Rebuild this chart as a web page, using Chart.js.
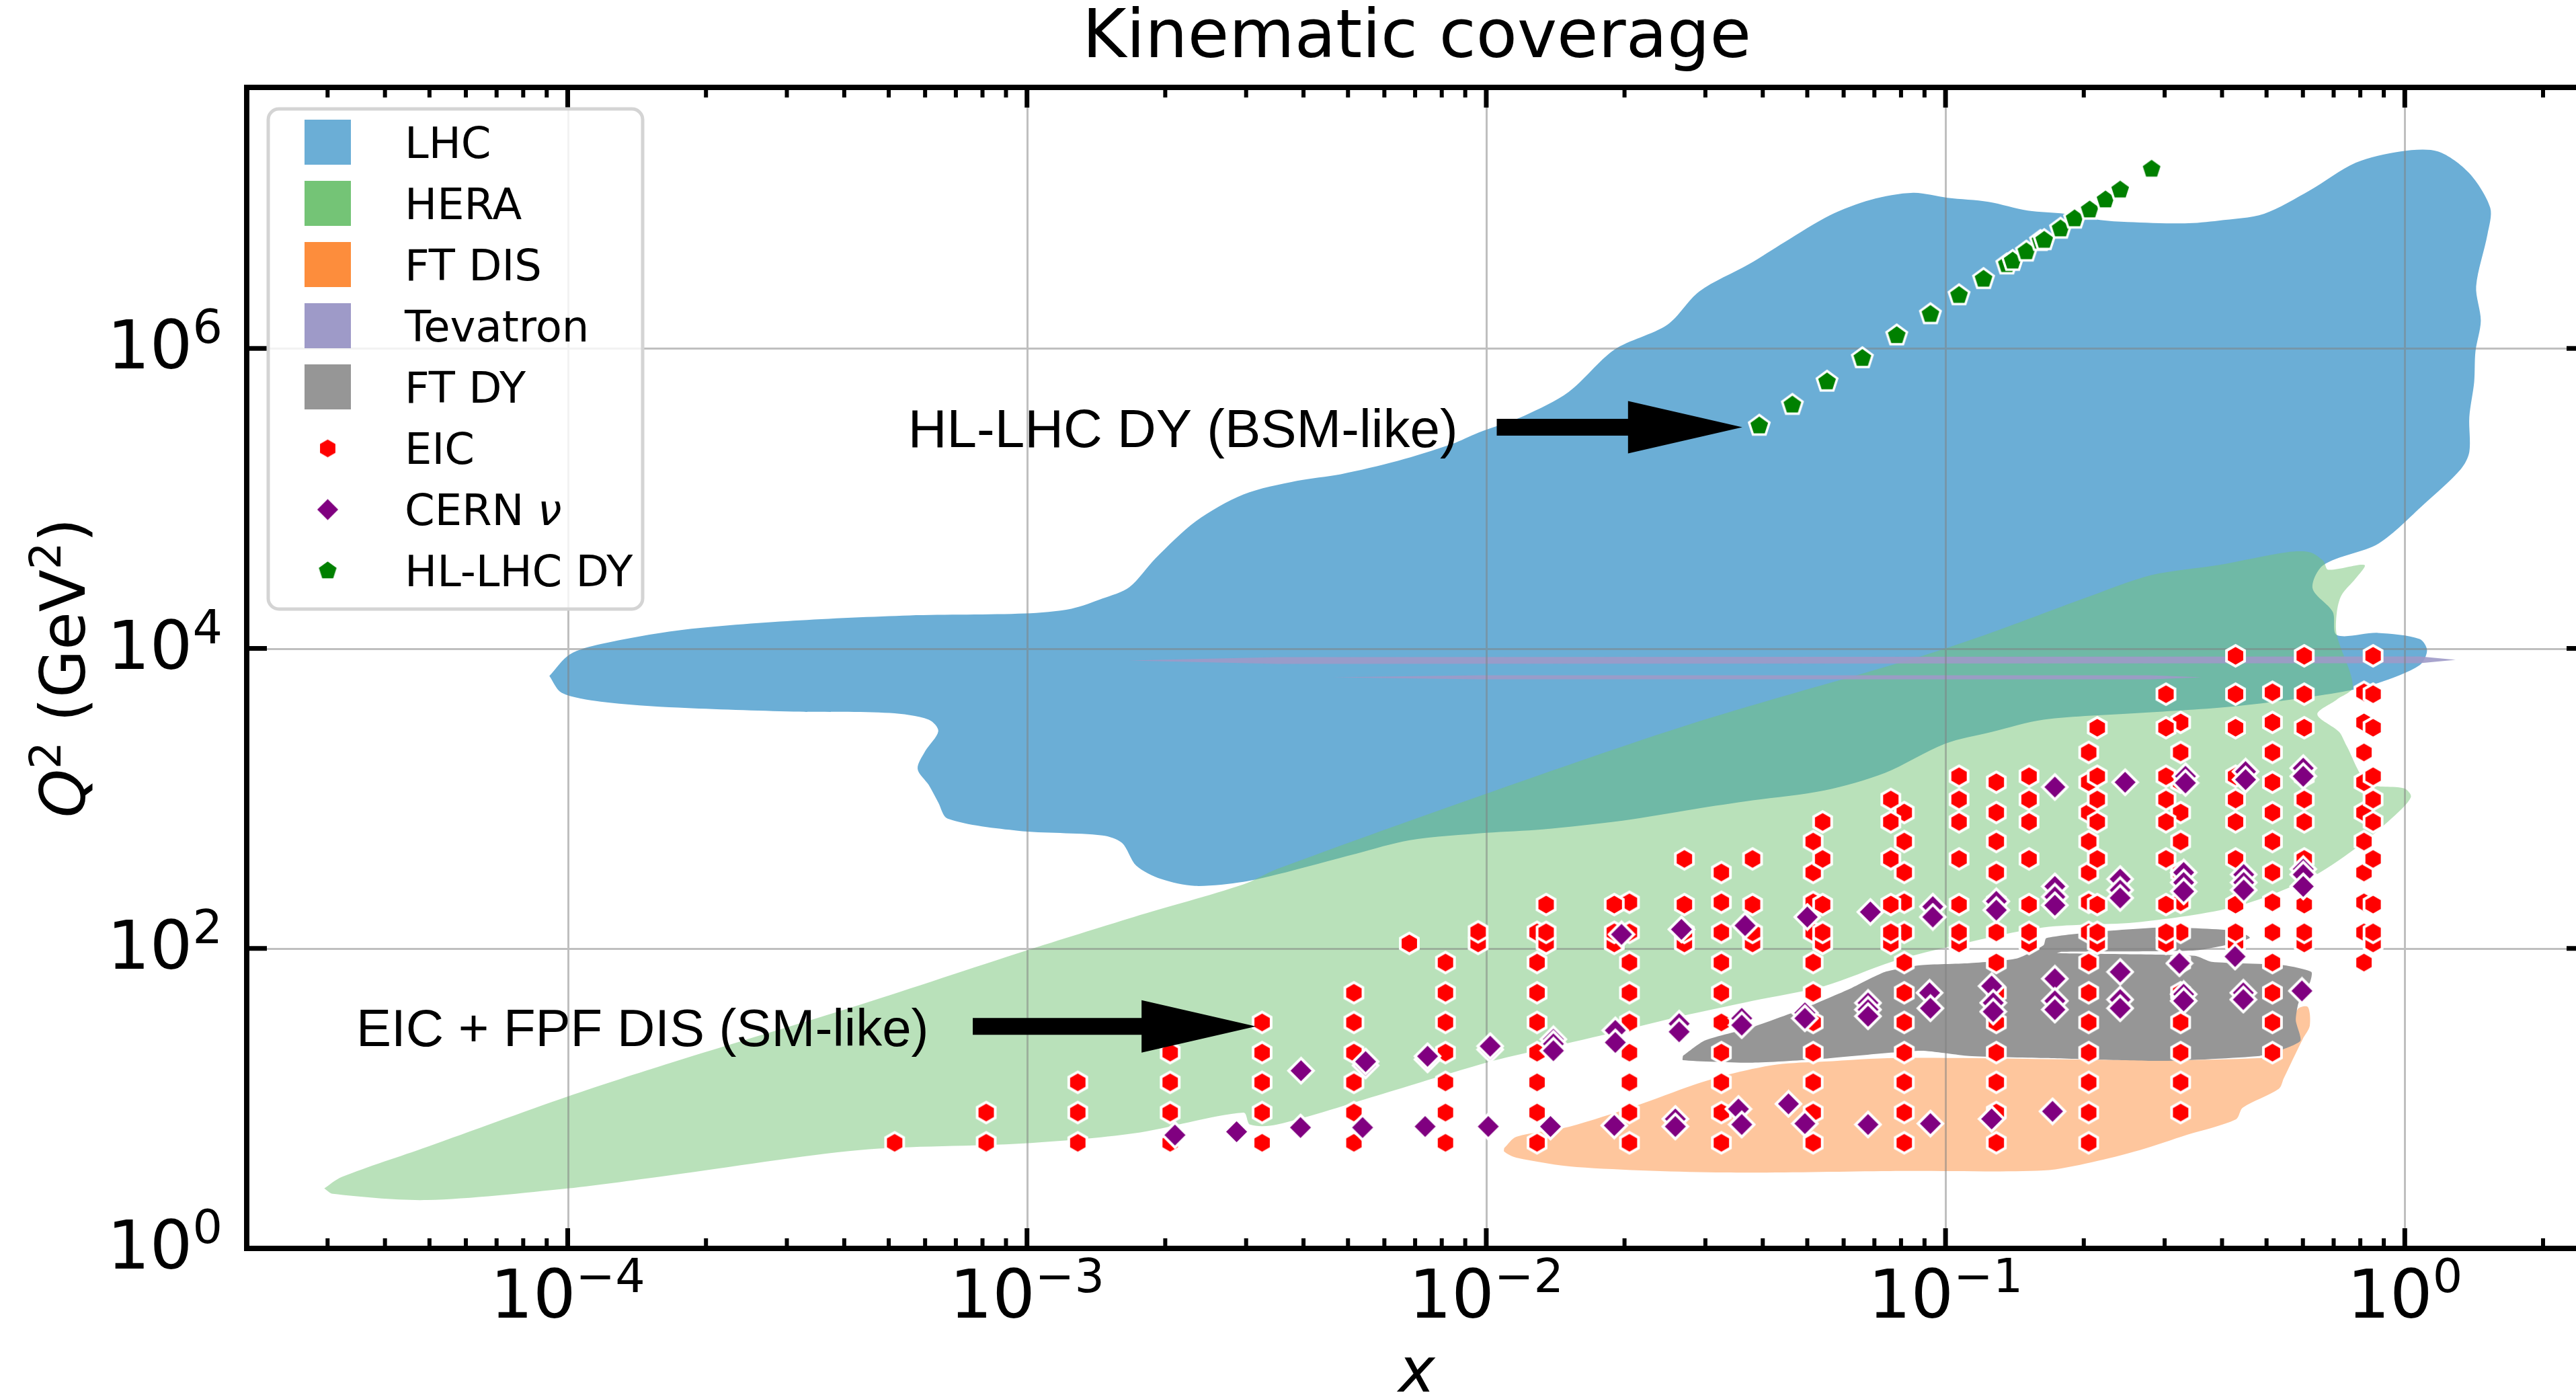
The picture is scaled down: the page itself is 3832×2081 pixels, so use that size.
<!DOCTYPE html>
<html lang="en">
<head>
<meta charset="UTF-8">
<title>Kinematic coverage</title>
<script src="https://cdn.jsdelivr.net/npm/chart.js@4.4.0/dist/chart.umd.min.js"></script>
<style>
  html, body { margin: 0; padding: 0; background: #ffffff; overflow: hidden; }
  #kin { position: absolute; left: 0; top: 0; }
</style>
</head>
<body>
<canvas id="kin" width="3900" height="2081"></canvas>
<script>
// ---- data (x, Q^2 in GeV^2) ----
const xMin = 2e-5, xMax = 2.49, yMin = 1, yMax = 5.5e7;
const xMajor = [1e-4, 1e-3, 1e-2, 1e-1, 1];
const xMajorSup = ['\u22124', '\u22123', '\u22122', '\u22121', '0'];
const yMajor = [1, 1e2, 1e4, 1e6];
const yMajorSup = ['0', '2', '4', '6'];

// EIC pseudo-data, column by column
const eicX = [5.15e-4, 8.15e-4, 1.29e-3, 2.05e-3, 3.25e-3, 5.15e-3, 8.15e-3, 0.0129, 0.0205,
              0.0325, 0.0515, 0.0813, 0.129, 0.205, 0.325, 0.515, 0.815];
const eicQ2 = [
  [5.06],
  [5.06, 8.05],
  [5.06, 8.05, 12.8],
  [5.06, 8.05, 12.8, 20.2],
  [5.06, 8.05, 12.8, 20.2, 32.1],
  [5.06, 8.05, 12.8, 20.2, 32.1, 50.6],
  [5.06, 8.05, 12.8, 20.2, 32.1, 50.6, 80.5],
  [5.06, 8.05, 12.8, 20.2, 32.1, 50.6, 80.5, 128],
  [5.06, 8.05, 12.8, 20.2, 32.1, 50.6, 80.5, 128, 203],
  [5.06, 8.05, 12.8, 20.2, 32.1, 50.6, 80.5, 128, 203, 321],
  [5.06, 8.05, 12.8, 20.2, 32.1, 50.6, 80.5, 128, 203, 321, 516],
  [5.06, 8.05, 12.8, 20.2, 32.1, 50.6, 80.5, 128, 203, 321, 516, 805],
  [5.06, 8.05, 12.8, 20.2, 32.1, 50.6, 80.5, 128, 203, 321, 516, 805, 1282],
  [5.06, 8.05, 12.8, 20.2, 32.1, 50.6, 80.5, 128, 203, 321, 516, 805, 1282, 2028],
  [8.05, 12.8, 20.2, 32.1, 50.6, 80.5, 128, 203, 321, 516, 805, 1282, 2028, 3213],
  [20.2, 32.1, 50.6, 80.5, 128, 203, 321, 516, 805, 1282, 2028, 3213, 5100],
  [80.5, 128, 203, 321, 516, 805, 1282, 2028, 3213, 5100]
];
const eicX2 = [0.0068, 0.0096, 0.0135, 0.019, 0.027, 0.038, 0.054, 0.076, 0.107, 0.152,
               0.214, 0.302, 0.428, 0.604, 0.853];
const eicQ2b = [
  [108],
  [108, 129],
  [108, 128, 196],
  [108, 128, 196],
  [108, 128, 196, 395],
  [108, 128, 196, 395],
  [108, 128, 196, 395, 697],
  [108, 128, 196, 395, 697, 984],
  [108, 128, 196, 395, 697, 984, 1406],
  [108, 128, 196, 395, 697, 984, 1406],
  [108, 128, 196, 395, 697, 984, 1406, 2960],
  [108, 128, 196, 395, 697, 984, 1406, 2960, 4955],
  [108, 128, 196, 395, 697, 984, 1406, 2960, 4955, 8930],
  [108, 128, 196, 395, 697, 984, 1406, 2960, 4955, 8930],
  [108, 128, 196, 395, 697, 984, 1406, 2960, 4955, 8930]
];

// CERN neutrino pseudo-data [x, Q2]
const cernPts = [
  [2.10e-3, 5.7], [2.86e-3, 6.0], [3.95e-3, 15.3], [3.94e-3, 6.4], [5.46e-3, 16.6], [5.46e-3, 17.6],
  [5.38e-3, 6.4], [7.45e-3, 18.2], [7.45e-3, 19.1], [7.36e-3, 6.5], [0.0102, 21.2], [0.0102, 22.3],
  [0.0101, 6.5], [0.0140, 24.8], [0.0140, 23.1], [0.0140, 20.8], [0.0138, 6.5], [0.0191, 28.4],
  [0.0191, 23.6], [0.0190, 6.6], [0.0197, 124], [0.0263, 31.5], [0.0263, 27.8], [0.0258, 7.3],
  [0.0258, 6.5], [0.0266, 134], [0.0366, 142], [0.0360, 34.2], [0.0360, 30.8], [0.0354, 8.5],
  [0.0360, 6.7], [0.0455, 9.2], [0.0500, 162], [0.0494, 37.2], [0.0494, 34.2], [0.0494, 6.8],
  [0.0686, 175], [0.0678, 43.3], [0.0678, 39.1], [0.0678, 35.3], [0.0678, 6.7], [0.0938, 190],
  [0.0938, 162], [0.0923, 50.6], [0.0927, 39.9], [0.0927, 6.8], [0.129, 206], [0.129, 180],
  [0.126, 56.1], [0.127, 43.4], [0.127, 37.9], [0.126, 7.3], [0.173, 1191], [0.173, 259],
  [0.173, 221], [0.173, 194], [0.173, 62.8], [0.173, 44.7], [0.173, 39.1], [0.171, 8.2],
  [0.246, 1282], [0.240, 290], [0.240, 245], [0.240, 217], [0.240, 69.7], [0.240, 45.6],
  [0.240, 39.9], [0.333, 1406], [0.333, 1268], [0.330, 321], [0.330, 275], [0.330, 240],
  [0.323, 79.6], [0.330, 49.5], [0.330, 44.7], [0.450, 1510], [0.450, 1335], [0.446, 311],
  [0.446, 275], [0.446, 245], [0.427, 88.3], [0.445, 50.6], [0.445, 45.6], [0.601, 1592],
  [0.601, 1406], [0.601, 338], [0.601, 311], [0.601, 259], [0.597, 52.1]
];

// HL-LHC Drell-Yan pseudo-data
const hlX = [0.0393, 0.0464, 0.0552, 0.0659, 0.0783, 0.0927, 0.107, 0.121, 0.136, 0.140,
             0.150, 0.161, 0.164, 0.178, 0.191, 0.206, 0.223, 0.240, 0.281];
const hlQ2 = [3.05e5, 4.2e5, 6.0e5, 8.6e5, 1.22e6, 1.69e6, 2.26e6, 2.9e6, 3.63e6, 3.83e6,
              4.42e6, 5.2e6, 5.27e6, 6.28e6, 7.33e6, 8.4e6, 9.8e6, 1.14e7, 1.57e7];

// coverage regions, outline [x, Q2]
const lhcEdge = [
  [9.12e-5, 6550], [1.01e-4, 9120], [1.18e-4, 10700], [1.74e-4, 13200], [3.10e-4, 15300],
  [5.55e-4, 16600], [9.9e-4, 17100], [1.25e-3, 18400], [1.46e-3, 21500], [1.67e-3, 25600],
  [1.905e-3, 39900], [2.33e-3, 70400], [2.96e-3, 1.064e5], [3.87e-3, 1.31e5], [4.82e-3, 1.45e5],
  [6.42e-3, 1.78e5],
  [8.43e-3, 2.31e5], [9.62e-3, 2.75e5], [0.0121, 3.56e5], [0.0151, 5.11e5], [0.0190, 9.8e5],
  [0.0248, 1.44e6], [0.0291, 2.40e6], [0.0373, 3.64e6], [0.0446, 5.11e6], [0.0560, 7.72e6],
  [0.0687, 9.8e6], [0.0850, 1.09e7], [0.101, 1.01e7], [0.124, 9.5e6], [0.151, 8.3e6],
  [0.182, 7.9e6], [0.217, 7.19e6], [0.249, 6.97e6], [0.332, 6.82e6], [0.393, 7.11e6],
  [0.494, 7.9e6], [0.621, 1.13e7], [0.782, 1.73e7], [0.980, 2.06e7], [1.18, 2.06e7],
  [1.38, 1.48e7], [1.535, 8.66e6], [1.514, 5.78e6], [1.43, 2.59e6], [1.464, 1.53e6],
  [1.425, 9.5e5], [1.416, 5.97e5], [1.382, 3.49e5], [1.382, 2.04e5], [1.323, 1.56e5],
  [1.099, 9.1e4], [0.877, 5.01e4], [0.665, 3.6e4], [0.630, 2.51e4], [0.697, 1.75e4],
  [0.711, 1.23e4], [0.874, 1.27e4], [1.077, 1.156e4], [1.118, 9700], [1.077, 7730],
  [0.877, 5900], [0.711, 5060], [0.429, 4120], [0.265, 3710], [0.1635, 3350], [0.1265, 2780],
  [0.0996, 2310], [0.0738, 1480], [0.0545, 1132], [0.0380, 970], [0.0283, 848], [0.0198, 711],
  [0.01325, 622], [0.01002, 590], [6.82e-3, 527], [5.22e-3, 429], [3.50e-3, 311], [2.96e-3, 278],
  [2.32e-3, 261], [1.96e-3, 290], [1.73e-3, 356], [1.61e-3, 506], [1.46e-3, 567], [9.55e-4, 609],
  [6.72e-4, 733], [6.41e-4, 940], [6.11e-4, 1230], [5.78e-4, 1575], [6.0e-4, 2060], [6.41e-4, 2810],
  [6.11e-4, 3350], [5.03e-4, 3710], [3.10e-4, 3790], [1.74e-4, 4030], [1.18e-4, 4420], [9.7e-5, 5060]
];
const heraEdge = [
  [2.95e-5, 2.51], [3.22e-5, 2.99], [4.94e-5, 4.75], [1.0e-4, 10.3], [1.68e-4, 17.3], [4.32e-4, 42.0],
  [9.88e-4, 95.9], [1.71e-3, 162], [2.96e-3, 267], [3.5e-3, 338], [0.0100, 1075], [0.0283, 3180],
  [0.0882, 8840], [0.1265, 12800], [0.200, 21500], [0.2805, 30800], [0.393, 36000], [0.554, 43800],
  [0.621, 43800], [0.665, 38300], [0.681, 33500], [0.817, 36000], [0.782, 29300], [0.728, 22600],
  [0.711, 17300], [0.711, 12300], [0.771, 5550], [0.711, 4560], [0.645, 3640], [0.719, 2780],
  [0.746, 2260], [0.831, 1268], [0.997, 1167], [1.031, 1021], [0.938, 741], [0.782, 466],
  [0.615, 290], [0.429, 190], [0.265, 150], [0.1635, 138], [0.0996, 101], [0.0763, 81.3],
  [0.0545, 56.1], [0.0380, 44.7], [0.02645, 35.2], [0.0198, 28.4], [0.01325, 21.3], [0.0100, 17.3],
  [5.96e-3, 10.75], [3.50e-3, 6.69], [3.06e-3, 6.69], [2.96e-3, 8.05], [1.71e-3, 5.85],
  [9.88e-4, 5.01], [4.32e-4, 4.52], [1.68e-4, 3.08], [1.0e-4, 2.51], [4.94e-5, 2.10], [3.08e-5, 2.31]
];
const ftdisEdge = [
  [0.01094, 4.66], [0.01162, 5.55], [0.01517, 6.48], [0.0212, 8.93], [0.0283, 12.3], [0.0336, 14.4],
  [0.0429, 16.8], [0.0545, 17.6], [0.0781, 18.6], [0.489, 18.6], [0.550, 24.8], [0.585, 39.5],
  [0.615, 40.7], [0.621, 30.5], [0.599, 24.8], [0.545, 13.6], [0.532, 11.6], [0.4436, 8.66],
  [0.429, 7.26], [0.3365, 5.73], [0.265, 4.52], [0.2077, 3.75], [0.1635, 3.31], [0.0755, 3.28],
  [0.0331, 3.21], [0.01574, 3.49], [0.01162, 4.03], [0.01094, 4.42]
];
const ftdyEdge = [
  [0.0268, 19.2], [0.0299, 24.3], [0.0380, 29.9], [0.0484, 39.1], [0.0615, 53.3], [0.0738, 69.7],
  [0.0882, 77.3], [0.1125, 79.7], [0.1429, 85.7], [0.1635, 105], [0.1657, 117], [0.2077, 128],
  [0.299, 138], [0.429, 131], [0.460, 118], [0.429, 109], [0.349, 97], [0.179, 95], [0.175, 93],
  [0.349, 89.3], [0.380, 81.3], [0.545, 77.3], [0.626, 69.7], [0.622, 59.7], [0.587, 43.3],
  [0.579, 33.1], [0.593, 24.3], [0.545, 21.3], [0.483, 19.2], [0.299, 17.8], [0.1635, 18.6],
  [0.1125, 19.2], [0.0882, 20.8], [0.0519, 18.2], [0.0380, 17.3], [0.0268, 18.0]
];
const tevZEdge = [[1.667e-3, 8300], [3.5e-3, 8750], [1.08, 8840], [1.29, 8390], [1.08, 7970], [3.5e-3, 7890]];
const tevWEdge = [[4.63e-3, 6420], [9.62e-3, 6620], [0.2805, 6620], [0.362, 6420], [0.2805, 6220], [9.62e-3, 6220]];

// annotations: text right end, arrow tail and tip
const noteText = ['HL-LHC DY (BSM-like)', 'EIC + FPF DIS (SM-like)'];
const noteTextAt = [[8.67e-3, 2.98e5], [6.11e-4, 30.2]];
const noteFrom = [[0.01054, 2.98e5], [7.62e-4, 30.2]];
const noteTo = [[0.0361, 2.98e5], [3.15e-3, 30.2]];
const noteFont = ['80px "Liberation Sans", Arial, sans-serif', '78px "Liberation Sans", Arial, sans-serif'];

// ---- helpers ----
function makeMarker(n, fill, r, edge) {
  const c = document.createElement('canvas');
  const s = Math.ceil(2 * r + edge + 2);
  c.width = s; c.height = s;
  const g = c.getContext('2d');
  g.translate(s / 2, s / 2);
  g.beginPath();
  for (let i = 0; i < n; i++) {
    const a = -Math.PI / 2 + i * 2 * Math.PI / n;
    g.lineTo(r * Math.cos(a), r * Math.sin(a));
  }
  g.closePath();
  g.fillStyle = fill;
  g.fill();
  g.lineWidth = edge;
  g.strokeStyle = '#ffffff';
  g.stroke();
  return c;
}
const hexMark = makeMarker(6, '#ff0000', 15.5, 4);
const diaMark = makeMarker(4, '#800080', 18.5, 4);
const pentMark = makeMarker(5, '#008000', 16, 3.5);

function colPoints(xs, lists) {
  const out = [];
  xs.forEach((x, i) => lists[i].forEach(q => out.push({x: x, y: q})));
  return out;
}
function edgePoints(edge) {
  const p = edge.map(e => ({x: e[0], y: e[1]}));
  p.push({x: edge[0][0], y: edge[0][1]});
  return p;
}
function region(label, edge, color, tension) {
  return {
    type: 'line', label: label, data: edgePoints(edge), fill: 'shape',
    backgroundColor: color, borderWidth: 0, pointRadius: 0, tension: tension
  };
}

function drawRuns(ctx, runs, x, y, align) {
  let w = 0;
  runs.forEach(r => { ctx.font = r.font; r.w = ctx.measureText(r.t).width; w += r.w; });
  let sx = align === 'center' ? x - w / 2 : (align === 'right' ? x - w : x);
  runs.forEach(r => {
    ctx.font = r.font;
    ctx.fillText(r.t, sx, y - (r.dy || 0));
    sx += r.w;
  });
}

function drawArrow(ctx, x0, x1, y) {
  const hl = 170, hw = 39, sw = 12.5;
  ctx.beginPath();
  ctx.moveTo(x0, y - sw);
  ctx.lineTo(x1 - hl, y - sw);
  ctx.lineTo(x1 - hl, y - hw);
  ctx.lineTo(x1, y);
  ctx.lineTo(x1 - hl, y + hw);
  ctx.lineTo(x1 - hl, y + sw);
  ctx.lineTo(x0, y + sw);
  ctx.closePath();
  ctx.fill();
}

const decor = {
  id: 'decor',
  beforeDatasetDraw(chart, args) {
    if (args.index !== 2) return;
    // grid on top of the shaded regions, under the markers
    const {ctx, chartArea: a, scales: {x, y}} = chart;
    ctx.save();
    ctx.beginPath();
    ctx.rect(a.left, a.top, a.right - a.left, a.bottom - a.top);
    ctx.clip();
    ctx.strokeStyle = 'rgba(128,128,128,0.5)';
    ctx.lineWidth = 3;
    ctx.beginPath();
    xMajor.forEach(v => {
      const px = Math.round(x.getPixelForValue(v)) + 0.5;
      ctx.moveTo(px, a.top); ctx.lineTo(px, a.bottom);
    });
    yMajor.forEach(v => {
      const py = Math.round(y.getPixelForValue(v)) + 0.5;
      ctx.moveTo(a.left, py); ctx.lineTo(a.right, py);
    });
    ctx.stroke();
    ctx.restore();
  },
  afterDatasetsDraw(chart) {
    const {ctx, scales: {x, y}} = chart;
    ctx.save();
    ctx.fillStyle = '#000000';
    ctx.textAlign = 'right';
    ctx.textBaseline = 'alphabetic';
    noteText.forEach((t, i) => {
      ctx.font = noteFont[i];
      ctx.fillText(t, x.getPixelForValue(noteTextAt[i][0]), y.getPixelForValue(noteTextAt[i][1]) + 29);
      drawArrow(ctx, x.getPixelForValue(noteFrom[i][0]), x.getPixelForValue(noteTo[i][0]),
                y.getPixelForValue(noteTo[i][1]));
    });
    ctx.restore();
  },
  afterDraw(chart) {
    const {ctx, chartArea: a, scales: {x, y}} = chart;
    ctx.save();
    ctx.fillStyle = '#000000';
    ctx.strokeStyle = '#000000';

    // ticks (inward, all four sides)
    ctx.lineWidth = 7;
    ctx.beginPath();
    xMajor.forEach(v => {
      const px = x.getPixelForValue(v);
      ctx.moveTo(px, a.bottom); ctx.lineTo(px, a.bottom - 30);
      ctx.moveTo(px, a.top); ctx.lineTo(px, a.top + 30);
    });
    yMajor.forEach(v => {
      const py = y.getPixelForValue(v);
      ctx.moveTo(a.left, py); ctx.lineTo(a.left + 30, py);
      ctx.moveTo(a.right, py); ctx.lineTo(a.right - 30, py);
    });
    ctx.stroke();
    ctx.lineWidth = 6;
    ctx.beginPath();
    for (let e = -5; e <= 0; e++) {
      for (let k = 2; k <= 9; k++) {
        const v = k * Math.pow(10, e);
        if (v <= xMin * 1.01 || v >= xMax) continue;
        const px = x.getPixelForValue(v);
        ctx.moveTo(px, a.bottom); ctx.lineTo(px, a.bottom - 15);
        ctx.moveTo(px, a.top); ctx.lineTo(px, a.top + 15);
      }
    }
    ctx.stroke();

    // frame
    ctx.lineWidth = 8;
    ctx.strokeRect(a.left, a.top, a.right - a.left, a.bottom - a.top);

    // tick labels
    const big = '100px "DejaVu Sans"', small = '70px "DejaVu Sans"';
    ctx.textBaseline = 'alphabetic';
    ctx.textAlign = 'left';
    xMajor.forEach((v, i) => {
      drawRuns(ctx, [{t: '10', font: big}, {t: xMajorSup[i], font: small, dy: 38}],
               x.getPixelForValue(v), a.bottom + 103, 'center');
    });
    yMajor.forEach((v, i) => {
      drawRuns(ctx, [{t: '10', font: big}, {t: yMajorSup[i], font: small, dy: 38}],
               a.left - 36, y.getPixelForValue(v) + 30, 'right');
    });

    // axis titles
    const cx = (a.left + a.right) / 2, cy = (a.top + a.bottom) / 2;
    ctx.font = 'italic 92px "DejaVu Sans"';
    ctx.textAlign = 'center';
    ctx.fillText('x', cx, a.bottom + 213);
    ctx.textAlign = 'left';
    ctx.save();
    ctx.translate(a.left - 241, cy);
    ctx.rotate(-Math.PI / 2);
    drawRuns(ctx, [
      {t: 'Q', font: 'italic 92px "DejaVu Sans"'},
      {t: '2', font: '64px "DejaVu Sans"', dy: 36},
      {t: ' (GeV', font: '92px "DejaVu Sans"'},
      {t: '2', font: '64px "DejaVu Sans"', dy: 36},
      {t: ')', font: '92px "DejaVu Sans"'}
    ], 0, 0, 'center');
    ctx.restore();

    // title
    ctx.font = '100px "DejaVu Sans"';
    ctx.textAlign = 'center';
    ctx.fillText('Kinematic coverage', cx, a.top - 45);

    // legend
    const lx = a.left + 32, ly = a.top + 32, lw = 557, lh = 744;
    ctx.beginPath();
    ctx.roundRect(lx, ly, lw, lh, 16);
    ctx.fillStyle = 'rgba(255,255,255,0.8)';
    ctx.fill();
    ctx.lineWidth = 5;
    ctx.strokeStyle = '#d4d4d4';
    ctx.stroke();
    const items = [
      {label: 'LHC', patch: '#6baed6'},
      {label: 'HERA', patch: '#74c476'},
      {label: 'FT DIS', patch: '#fd8d3c'},
      {label: 'Tevatron', patch: '#9e9ac8'},
      {label: 'FT DY', patch: '#969696'},
      {label: 'EIC', mark: hexMark},
      {label: 'CERN ', mark: diaMark, extra: '\u03bd'},
      {label: 'HL-LHC DY', mark: pentMark}
    ];
    ctx.textAlign = 'left';
    items.forEach((it, i) => {
      const ry = a.top + 82 + i * 91;
      if (it.patch) {
        ctx.fillStyle = it.patch;
        ctx.fillRect(a.left + 86, ry - 34, 69, 67);
      } else {
        ctx.drawImage(it.mark, a.left + 120.5 - it.mark.width / 2, ry - it.mark.height / 2);
      }
      ctx.fillStyle = '#000000';
      const runs = [{t: it.label, font: '64px "DejaVu Sans"'}];
      if (it.extra) runs.push({t: it.extra, font: 'italic 64px "DejaVu Sans"'});
      drawRuns(ctx, runs, a.left + 235, ry + 23, 'left');
    });
    ctx.restore();
  }
};

new Chart(document.getElementById('kin'), {
  type: 'scatter',
  data: {
    datasets: [
      {label: 'HL-LHC DY', data: hlX.map((v, i) => ({x: v, y: hlQ2[i]})), pointStyle: pentMark, pointRadius: 16},
      {label: 'CERN \u03bd', data: cernPts.map(p => ({x: p[0], y: p[1]})), pointStyle: diaMark, pointRadius: 18},
      {label: 'EIC', data: colPoints(eicX, eicQ2).concat(colPoints(eicX2, eicQ2b)), pointStyle: hexMark, pointRadius: 16},
      region('FT DY', ftdyEdge, '#969696', 0.2),
      region('Tevatron', tevZEdge, 'rgba(158,154,200,0.9)', 0),
      region('Tevatron W', tevWEdge, 'rgba(158,154,200,0.9)', 0),
      region('FT DIS', ftdisEdge, 'rgba(253,141,60,0.5)', 0.3),
      region('HERA', heraEdge, 'rgba(116,196,118,0.5)', 0.3),
      region('LHC', lhcEdge, '#6baed6', 0.3)
    ]
  },
  options: {
    responsive: false,
    animation: false,
    events: [],
    layout: {padding: {left: 367, top: 130, right: 52, bottom: 224}},
    plugins: {legend: {display: false}, tooltip: {enabled: false}, title: {display: false}},
    scales: {
      x: {type: 'logarithmic', min: xMin, max: xMax, display: false, bounds: 'data'},
      y: {type: 'logarithmic', min: yMin, max: yMax, display: false, bounds: 'data'}
    }
  },
  plugins: [decor]
});
</script>
</body>
</html>
